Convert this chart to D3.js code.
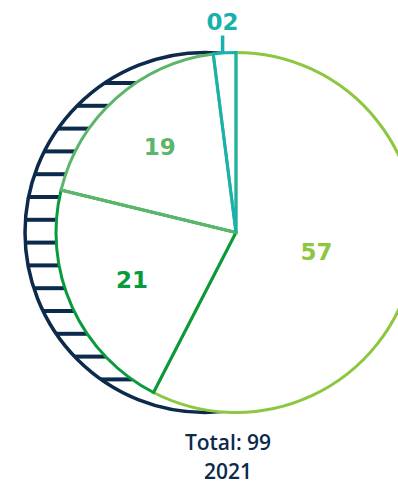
<!DOCTYPE html>
<html><head><meta charset="utf-8">
<script src="https://cdn.jsdelivr.net/npm/d3@7"></script>
<style>html,body{margin:0;padding:0;background:#fff;}svg{display:block;}</style>
</head><body>
<svg id="chart" width="398" height="485"></svg>
<script>
const categories = ["57", "21", "19", "02"];
const values = [57, 21, 19, 2];
const colors = ["#8dc63f", "#0a9a3e", "#5bb56b", "#16b2ab"];
const totalLabel = "Total: 99";
const yearLabel = "2021";

const svg = d3.select("#chart");
const cx = 236, cy = 232.5, R = 180;
const shadowOffset = 31;
const navy = "#0b2a4c";

const data = categories.map((c, i) => ({cat: c, value: values[i], color: colors[i]}));

const g = svg.append("g");
g.append("circle").attr("cx", cx - shadowOffset).attr("cy", cy).attr("r", R)
  .attr("fill", "none").attr("stroke", navy).attr("stroke-width", 3.5);

const hatchYs = d3.range(83, 382, 22.8);
hatchYs.forEach(y => {
  const dy = y - cy;
  const half = Math.sqrt(R * R - dy * dy);
  g.append("line").attr("x1", cx - shadowOffset - half).attr("x2", cx - half)
    .attr("y1", y).attr("y2", y)
    .attr("stroke", navy).attr("stroke-width", 4);
});

const pie = d3.pie().sort(null).value(d => d.value);
const arcs = pie(data);
const arc = d3.arc().innerRadius(0).outerRadius(R);
const pg = svg.append("g").attr("transform", `translate(${cx},${cy})`);

pg.append("circle").attr("r", R).attr("fill", "#fff");

pg.selectAll("path.slice").data(arcs).join("path")
  .attr("class", "slice")
  .attr("d", arc)
  .attr("fill", "none")
  .attr("stroke", d => d.data.color)
  .attr("stroke-width", 3)
  .attr("stroke-linejoin", "miter");

const numFont = "'DejaVu Sans', sans-serif";
const numSize = 23;
arcs.forEach(d => {
  const mid = (d.startAngle + d.endAngle) / 2;
  const span = d.endAngle - d.startAngle;
  if (span < 0.3) {
    const x = R * Math.sin(mid) - 2;
    pg.append("line").attr("x1", x).attr("x2", x).attr("y1", -R).attr("y2", -R - 17)
      .attr("stroke", d.data.color).attr("stroke-width", 3.5);
    pg.append("text").attr("x", x).attr("y", -R - 23)
      .attr("text-anchor", "middle")
      .attr("font-family", numFont).attr("font-weight", "bold").attr("font-size", numSize)
      .attr("fill", d.data.color).text(d.data.cat);
  } else {
    const lr = span > Math.PI ? R * 0.46 : R * 0.635;
    const x = lr * Math.sin(mid), y = -lr * Math.cos(mid);
    pg.append("text").attr("x", x).attr("y", y)
      .attr("text-anchor", "middle").attr("dominant-baseline", "central")
      .attr("font-family", numFont).attr("font-weight", "bold").attr("font-size", numSize)
      .attr("fill", d.data.color).text(d.data.cat);
  }
});

svg.append("text").attr("x", 228).attr("y", 450)
  .attr("text-anchor", "middle").attr("font-family", "'Open Sans', sans-serif")
  .attr("font-weight", 600).attr("font-size", 21).attr("fill", navy).text(totalLabel);
svg.append("text").attr("x", 228).attr("y", 479)
  .attr("text-anchor", "middle").attr("font-family", "'Open Sans', sans-serif")
  .attr("font-weight", 600).attr("font-size", 21).attr("fill", navy).text(yearLabel);
</script>
</body></html>
